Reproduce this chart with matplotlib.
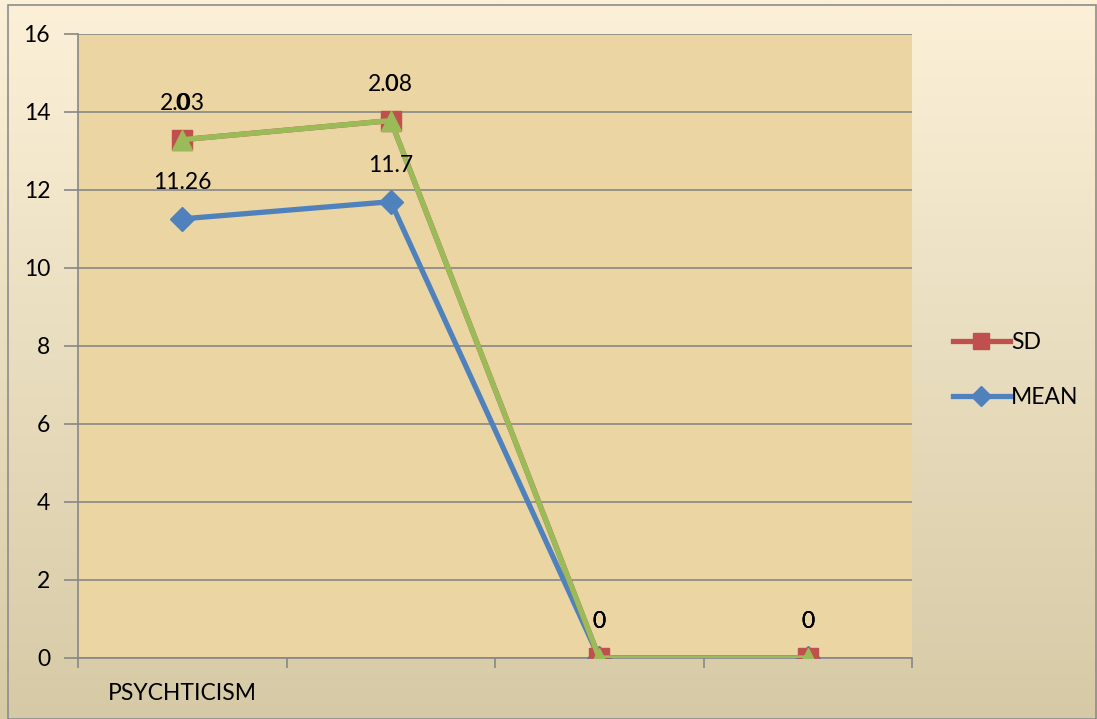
import matplotlib
matplotlib.use("Agg")
import matplotlib.pyplot as plt
import numpy as np
from matplotlib.lines import Line2D
from matplotlib.patches import Rectangle

categories = ["PSYCHTICISM", "", "", ""]
mean_vals = [11.26, 11.7, 0, 0]
sd_vals = [2.03, 2.08, 0, 0]
third_vals = [0, 0, 0, 0]
y_ticks = [0, 2, 4, 6, 8, 10, 12, 14, 16]

plt.rcParams['font.family'] = ['Lato', 'DejaVu Sans']

W, H = 1097, 719
FS = 16.5
fig = plt.figure(figsize=(W / 100, H / 100), dpi=100)

# background gradient
bg = fig.add_axes([0, 0, 1, 1], zorder=-10)
grad = np.linspace(0, 1, 256).reshape(-1, 1)
top = np.array([0xFC, 0xF0, 0xD8]) / 255
bot = np.array([0xD6, 0xCA, 0xA6]) / 255
img = top[None, None, :] * (1 - grad[:, :, None]) + bot[None, None, :] * grad[:, :, None]
bg.imshow(img, aspect='auto', extent=[0, 1, 0, 1], origin='upper')
bg.set_xlim(0, 1)
bg.set_ylim(0, 1)
bg.axis('off')
bg.add_patch(Rectangle((8 / W, 0), 1 - 8 / W - 0.0005, 1 - 5 / H, fill=False,
                       edgecolor='#8C8C8C', linewidth=1.2, transform=bg.transAxes))

left, right, topy, boty = 78, 912, 34, 658
ax = fig.add_axes([left / W, 1 - boty / H, (right - left) / W, (boty - topy) / H])
ax.set_facecolor('#EAD5A3')

x = np.arange(len(categories))
mean_c = np.array(mean_vals)
sd_c = mean_c + np.array(sd_vals)
third_c = sd_c + np.array(third_vals)

ax.plot(x, mean_c, color='#4F81BD', lw=3.8, marker='D', ms=12, zorder=3)
ax.plot(x, sd_c, color='#C0504D', lw=3.8, marker='s', ms=15, zorder=4)
ax.plot(x, third_c, color='#9BBB59', lw=3.8, marker='^', ms=15, zorder=5)

def fmt(v):
    return f"{v:g}"

for vals, cum in [(mean_vals, mean_c), (sd_vals, sd_c), (third_vals, third_c)]:
    for xi, yi, v in zip(x, cum, vals):
        ax.annotate(fmt(v), (xi, yi), xytext=(0, 26), textcoords='offset points',
                    ha='center', va='center', fontsize=FS, zorder=6)

ax.set_xlim(-0.5, len(categories) - 0.5)
ax.set_ylim(0, 16)
ax.set_yticks(y_ticks)
ax.set_yticklabels([str(t) for t in y_ticks], fontsize=FS)
ax.yaxis.grid(True, color='#878787', lw=1.2)
ax.set_axisbelow(True)

ax.set_xticks(np.arange(-0.5, len(categories), 1.0))
ax.set_xticklabels([])
ax.tick_params(axis='x', direction='out', length=7, color='#878787', width=1.2)
ax.tick_params(axis='y', direction='out', length=10, color='#878787', width=1.2, pad=10)
for xi, c in zip(x, categories):
    ax.text(xi, -0.04, c, transform=ax.get_xaxis_transform(), ha='center', va='top', fontsize=FS)

for s in ['top', 'right']:
    ax.spines[s].set_visible(False)
for s in ['left', 'bottom']:
    ax.spines[s].set_color('#878787')
    ax.spines[s].set_linewidth(1.2)

handles = [Line2D([], [], color='#C0504D', lw=3.8, marker='s', ms=12),
           Line2D([], [], color='#4F81BD', lw=3.8, marker='D', ms=10)]
fig.legend(handles, ['SD', 'MEAN'], loc='center left', bbox_to_anchor=(932 / W, 1 - 370 / H),
           frameon=False, fontsize=FS, handlelength=2.5, handletextpad=0.05, labelspacing=1.45)

fig.savefig('out.png', dpi=100)
